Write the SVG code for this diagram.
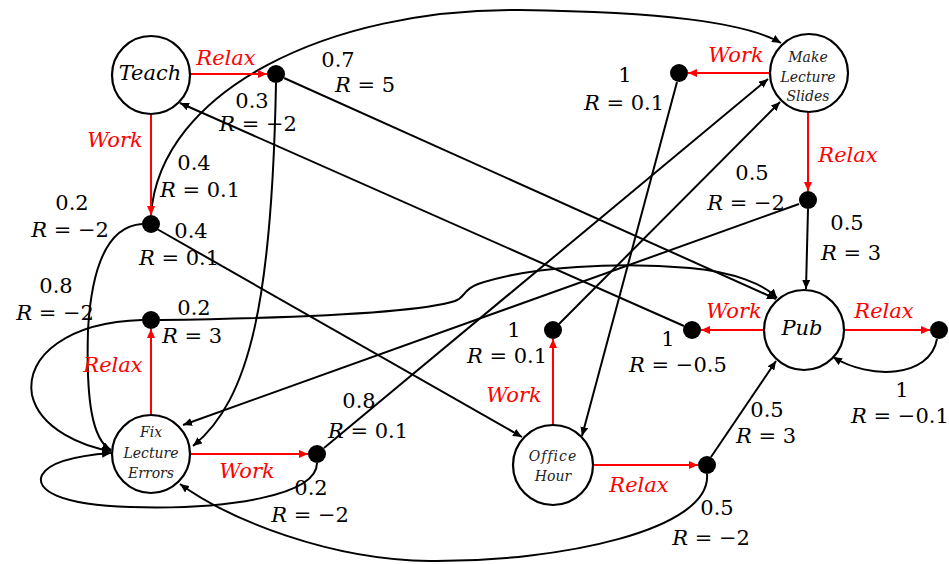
<svg xmlns="http://www.w3.org/2000/svg" width="949" height="564" viewBox="0 0 949 564">
<style>
.node{fill:#fff;stroke:#000;stroke-width:2.2}
.dot{fill:#000}
.nl{font-family:"DejaVu Serif","Liberation Serif",serif;font-style:italic;fill:#222;text-anchor:middle}
.big{font-size:21px;fill:#000}
.sm{font-size:14px}
.lbl{font-family:"DejaVu Serif","Liberation Serif",serif;font-size:21px;fill:#000;text-anchor:middle}
.act{font-family:"DejaVu Serif","Liberation Serif",serif;font-size:21px;font-style:italic;fill:#f00;text-anchor:middle}
.e{fill:none;stroke:#000;stroke-width:2}
.r{fill:none;stroke:#f00;stroke-width:2}
</style>
<defs>
<marker id="ab" markerUnits="userSpaceOnUse" markerWidth="10" markerHeight="8" refX="9" refY="4" orient="auto"><path d="M0,0 L9,4 L0,8 z" fill="#000"/></marker>
<marker id="ar" markerUnits="userSpaceOnUse" markerWidth="10" markerHeight="8" refX="9" refY="4" orient="auto"><path d="M0,0 L9,4 L0,8 z" fill="#f00"/></marker>
</defs>

<g id="connectors">
<!-- black transitions -->
<path class="e" marker-end="url(#ab)" d="M284,78 L776,299"/>
<path class="e" marker-end="url(#ab)" d="M276,83 C272,300 250,400 193,446"/>
<path class="e" marker-end="url(#ab)" d="M151,215 C160,90 330,8 520,10 C660,12 745,22 781,43"/>
<path class="e" marker-end="url(#ab)" d="M157,229 L522,437"/>
<path class="e" marker-end="url(#ab)" d="M142,224 C110,226 92,260 88,330 C86,400 92,440 111,450"/>
<path class="e" marker-end="url(#ab)" d="M160,320 C300,318 420,312 455,301 C466,297 462,290 478,284 C530,266 620,262 690,268 C735,272 765,285 777,298"/>
<path class="e" marker-end="url(#ab)" d="M142,320 C70,322 25,355 32,395 C40,430 85,447 111,451"/>
<path class="e" marker-end="url(#ab)" d="M324,448 L768,79"/>
<path class="e" marker-end="url(#ab)" d="M317,463 C317,495 230,510 130,507 C60,505 35,490 42,475 C50,460 85,455 111,453"/>
<path class="e" marker-end="url(#ab)" d="M677,82 L582,436"/>
<path class="e" marker-end="url(#ab)" d="M559,324 L780,102"/>
<path class="e" marker-end="url(#ab)" d="M799,204 L183,425"/>
<path class="e" marker-end="url(#ab)" d="M808,209 L806,289"/>
<path class="e" marker-end="url(#ab)" d="M684,326 L180,103"/>
<path class="e" marker-end="url(#ab)" d="M711,457 L776,361"/>
<path class="e" marker-end="url(#ab)" d="M707,474 C712,530 560,562 430,561 C330,560 230,520 180,484"/>
<path class="e" marker-end="url(#ab)" d="M937,339 C930,378 870,380 833,357"/>
<!-- red actions -->
<path class="r" marker-end="url(#ar)" d="M190,74 L267,74"/>
<path class="r" marker-end="url(#ar)" d="M151,114 L151,215"/>
<path class="r" marker-end="url(#ar)" d="M770,73 L688,73"/>
<path class="r" marker-end="url(#ar)" d="M808,112 L808,191"/>
<path class="r" marker-end="url(#ar)" d="M151,415 L151,329"/>
<path class="r" marker-end="url(#ar)" d="M190,454 L308,454"/>
<path class="r" marker-end="url(#ar)" d="M553,425 L553,339"/>
<path class="r" marker-end="url(#ar)" d="M593,465 L698,465"/>
<path class="r" marker-end="url(#ar)" d="M764,330 L701,330"/>
<path class="r" marker-end="url(#ar)" d="M844,330 L930,330"/>
<!-- action labels -->
<text class="act" x="226" y="65">Relax</text>
<text class="act" x="115" y="147">Work</text>
<text class="act" x="736" y="62">Work</text>
<text class="act" x="848" y="162">Relax</text>
<text class="act" x="113" y="372">Relax</text>
<text class="act" x="247" y="478">Work</text>
<text class="act" x="514" y="402">Work</text>
<text class="act" x="639" y="492">Relax</text>
<text class="act" x="734" y="318">Work</text>
<text class="act" x="884" y="318">Relax</text>
<!-- transition labels -->
<text class="lbl" x="338" y="67">0.7</text>
<text class="lbl" x="365" y="92"><tspan font-style="italic">R</tspan> = 5</text>
<text class="lbl" x="252" y="108">0.3</text>
<text class="lbl" x="258" y="131"><tspan font-style="italic">R</tspan> = −2</text>
<text class="lbl" x="194" y="170">0.4</text>
<text class="lbl" x="200" y="197"><tspan font-style="italic">R</tspan> = 0.1</text>
<text class="lbl" x="72" y="210">0.2</text>
<text class="lbl" x="70" y="237"><tspan font-style="italic">R</tspan> = −2</text>
<text class="lbl" x="191" y="238">0.4</text>
<text class="lbl" x="179" y="265"><tspan font-style="italic">R</tspan> = 0.1</text>
<text class="lbl" x="56" y="293">0.8</text>
<text class="lbl" x="55" y="320"><tspan font-style="italic">R</tspan> = −2</text>
<text class="lbl" x="194" y="315">0.2</text>
<text class="lbl" x="192" y="343"><tspan font-style="italic">R</tspan> = 3</text>
<text class="lbl" x="359" y="408">0.8</text>
<text class="lbl" x="368" y="438"><tspan font-style="italic">R</tspan> = 0.1</text>
<text class="lbl" x="311" y="495">0.2</text>
<text class="lbl" x="310" y="522"><tspan font-style="italic">R</tspan> = −2</text>
<text class="lbl" x="625" y="82">1</text>
<text class="lbl" x="624" y="110"><tspan font-style="italic">R</tspan> = 0.1</text>
<text class="lbl" x="752" y="180">0.5</text>
<text class="lbl" x="746" y="210"><tspan font-style="italic">R</tspan> = −2</text>
<text class="lbl" x="847" y="230">0.5</text>
<text class="lbl" x="851" y="260"><tspan font-style="italic">R</tspan> = 3</text>
<text class="lbl" x="514" y="337">1</text>
<text class="lbl" x="507" y="363"><tspan font-style="italic">R</tspan> = 0.1</text>
<text class="lbl" x="668" y="346">1</text>
<text class="lbl" x="678" y="372"><tspan font-style="italic">R</tspan> = −0.5</text>
<text class="lbl" x="902" y="397">1</text>
<text class="lbl" x="900" y="423"><tspan font-style="italic">R</tspan> = −0.1</text>
<text class="lbl" x="767" y="417">0.5</text>
<text class="lbl" x="766" y="443"><tspan font-style="italic">R</tspan> = 3</text>
<text class="lbl" x="717" y="515">0.5</text>
<text class="lbl" x="711" y="545"><tspan font-style="italic">R</tspan> = −2</text>
</g>

<g id="teach"><circle class="node" cx="151" cy="75" r="39"/><text class="nl big" x="150" y="80">Teach</text></g>
<g id="make-lecture-slides"><circle class="node" cx="809" cy="73" r="39"/><text class="nl sm" x="808" y="62">Make</text><text class="nl sm" x="808" y="82">Lecture</text><text class="nl sm" x="808" y="101">Slides</text></g>
<g id="fix-lecture-errors"><circle class="node" cx="151" cy="454" r="39"/><text class="nl sm" x="151" y="437">Fix</text><text class="nl sm" x="151" y="458">Lecture</text><text class="nl sm" x="151" y="478">Errors</text></g>
<g id="office-hour"><circle class="node" cx="553" cy="465" r="40"/><text class="nl sm" x="553" y="461" letter-spacing="1">Office</text><text class="nl sm" x="553" y="481">Hour</text></g>
<g id="pub"><circle class="node" cx="804" cy="330" r="40"/><text class="nl big" x="802" y="335">Pub</text></g>

<g id="d-teach-relax"><circle class="dot" cx="276" cy="74" r="9"/></g>
<g id="d-teach-work"><circle class="dot" cx="151" cy="224" r="9"/></g>
<g id="d-mls-work"><circle class="dot" cx="679" cy="73" r="9"/></g>
<g id="d-mls-relax"><circle class="dot" cx="808" cy="200" r="9"/></g>
<g id="d-fle-relax"><circle class="dot" cx="151" cy="320" r="9"/></g>
<g id="d-fle-work"><circle class="dot" cx="317" cy="454" r="9"/></g>
<g id="d-oh-work"><circle class="dot" cx="553" cy="330" r="9"/></g>
<g id="d-oh-relax"><circle class="dot" cx="707" cy="465" r="9"/></g>
<g id="d-pub-work"><circle class="dot" cx="692" cy="330" r="9"/></g>
<g id="d-pub-relax"><circle class="dot" cx="939" cy="330" r="9"/></g>
</svg>
